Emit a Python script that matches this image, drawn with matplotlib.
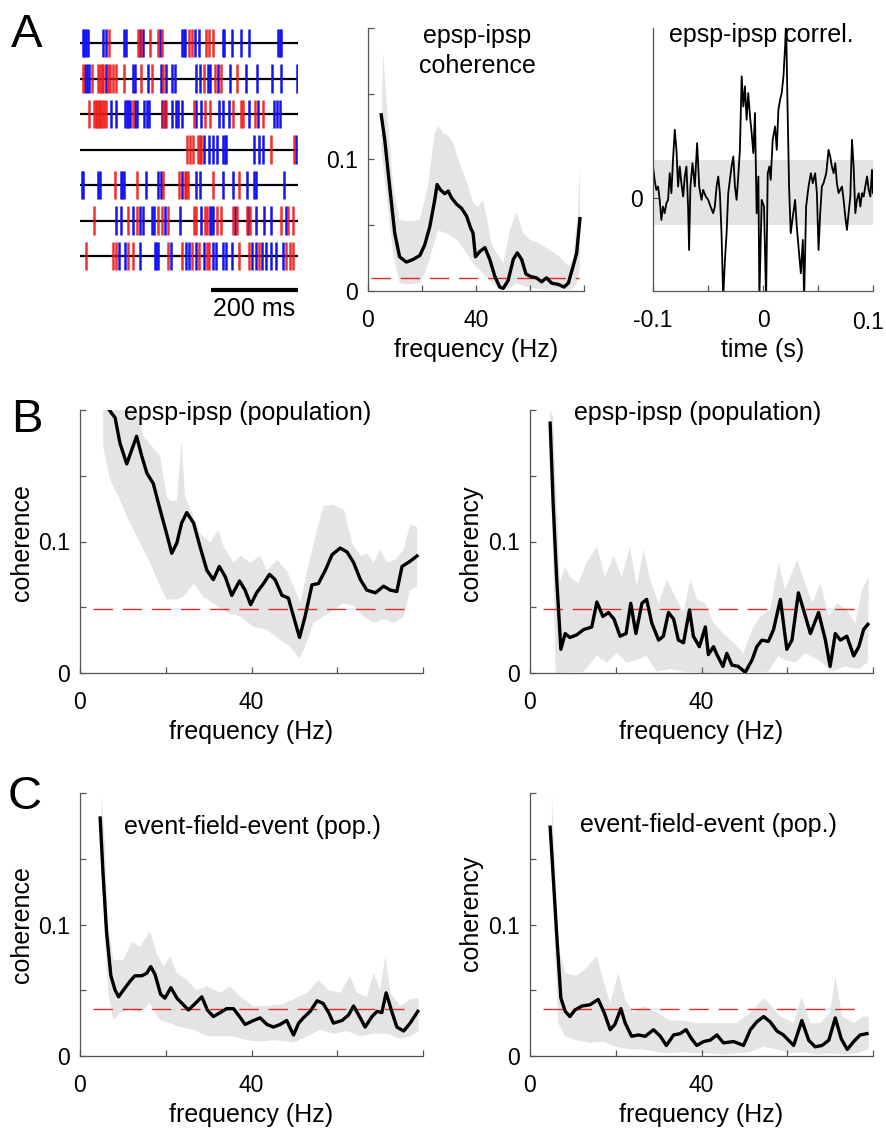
import numpy as np
import matplotlib.pyplot as plt

plt.rcParams['font.family'] = ['Liberation Sans', 'DejaVu Sans']

# ---- A: raster of events (ms), one list per trace ----
blue_spikes = [
    [6, 10, 14, 18, 53, 60, 101, 105, 137, 145, 183, 235, 238, 241, 263, 273, 327, 331, 349, 370, 388, 455, 459, 462],
    [11, 17, 21, 60, 121, 125, 156, 185, 197, 210, 217, 267, 275, 294, 299, 317, 343, 380, 406, 441, 462, 498],
    [70, 82, 103, 107, 111, 114, 126, 131, 146, 153, 159, 187, 195, 212, 220, 225, 233, 267, 278, 319, 327, 342, 388, 408, 446, 452, 458],
    [284, 296, 305, 314, 327, 332, 336, 398, 411, 420, 496],
    [4, 7, 42, 46, 93, 97, 101, 151, 179, 185, 235, 267, 276, 328, 351, 383, 398, 404, 469],
    [82, 95, 122, 137, 145, 166, 170, 195, 229, 278, 298, 301, 305, 355, 385, 404, 423, 439, 473],
    [90, 103, 137, 172, 175, 179, 208, 243, 250, 266, 284, 305, 313, 327, 336, 349, 395, 403, 418, 427, 439, 450, 465],
]
red_spikes = [
    [67, 134, 141, 160, 179, 189, 250, 256, 290, 296, 304],
    [6, 27, 42, 46, 50, 53, 65, 69, 75, 82, 101, 141, 166, 191, 284, 309, 324, 359],
    [21, 32, 36, 40, 43, 47, 51, 55, 60, 121, 191, 198, 261, 286, 299, 351, 370, 374, 401, 420],
    [246, 252, 259, 271, 275, 278, 439, 490],
    [80, 130, 191, 227, 240, 244, 248, 305, 365],
    [31, 111, 130, 179, 187, 202, 261, 267, 286, 291, 314, 324, 351, 360, 382, 389, 462, 477, 488],
    [14, 76, 82, 111, 122, 202, 235, 258, 273, 291, 296, 365, 388, 410, 473, 481, 488],
]

# ---- A: single pair coherence ----
a_freq = [4.9, 6.2, 8.0, 9.9, 11.7, 14.2, 16.7, 19.2, 21.0, 22.9, 24.7, 25.6, 26.8, 28.4, 29.7, 30.9, 32.8, 34.6,
          36.5, 38.0, 38.9, 39.8, 41.4, 43.3, 45.1, 47.0, 48.8, 50.1, 51.9, 53.8, 55.3, 56.9, 58.5, 60.2, 62.4,
          64.3, 66.1, 68.0, 70.5, 72.6, 74.2, 76.0, 77.3, 78.5]
a_coh = [0.134, 0.115, 0.080, 0.044, 0.026, 0.022, 0.024, 0.027, 0.035, 0.049, 0.069, 0.081, 0.077, 0.074, 0.076,
         0.071, 0.066, 0.063, 0.057, 0.048, 0.044, 0.026, 0.030, 0.033, 0.024, 0.011, 0.003, 0.002, 0.008, 0.024,
         0.029, 0.024, 0.013, 0.011, 0.010, 0.007, 0.010, 0.006, 0.005, 0.003, 0.006, 0.019, 0.029, 0.055]
a_hi_freq = [5.6, 6.8, 9.3, 11.7, 15.5, 19.2, 22.2, 24.7, 26.0, 27.8, 29.7, 31.5, 33.4, 35.2, 37.1, 38.9, 40.8,
             42.6, 43.9, 45.7, 47.6, 50.1, 52.5, 55.0, 57.5, 60.0, 63.7, 67.4, 71.0, 74.2, 76.0, 77.9, 78.5]
a_hi = [0.182, 0.146, 0.080, 0.054, 0.053, 0.054, 0.080, 0.120, 0.126, 0.120, 0.118, 0.113, 0.100, 0.090, 0.080,
        0.067, 0.064, 0.069, 0.057, 0.036, 0.029, 0.021, 0.046, 0.060, 0.044, 0.039, 0.036, 0.031, 0.026, 0.019,
        0.024, 0.064, 0.095]
a_lo_freq = [4.9, 6.8, 9.3, 11.7, 15.5, 19.2, 21.6, 24.1, 26.0, 29.0, 32.8, 36.5, 38.9, 41.4, 45.1, 48.8, 52.5,
             55.0, 58.7, 64.9, 71.0, 74.8, 77.3, 78.5]
a_lo = [0.107, 0.074, 0.029, 0.006, 0.005, 0.006, 0.016, 0.034, 0.046, 0.044, 0.039, 0.029, 0.021, 0.016, 0.008,
        0.001, 0.002, 0.006, 0.003, 0.001, 0.001, 0.001, 0.005, 0.019]
a_thr = 0.0102

# ---- A: epsp-ipsp cross-correlation (lag in ms) ----
corr_lag = [-100.0, -98.5, -97.0, -95.4, -93.9, -92.4, -90.9, -89.4, -87.8, -86.3,
            -84.8, -83.3, -81.8, -80.2, -78.7, -77.2, -75.7, -74.2, -72.6, -71.1,
            -69.6, -68.1, -67.2, -66.0, -64.1, -62.0, -59.9, -58.0, -55.9, -54.4,
            -52.0, -49.8, -47.7, -45.3, -43.8, -42.2, -40.7, -39.2, -37.7, -36.2,
            -34.6, -33.1, -31.6, -28.6, -27.0, -25.5, -24.0, -22.5, -21.0, -19.4,
            -17.9, -16.4, -14.9, -13.4, -11.8, -10.3, -8.8, -7.3, -5.8, -4.2,
            -3.3, -1.2, 0.9, 2.8, 4.3, 5.8, 7.0, 8.8, 11.0, 12.5,
            14.0, 15.5, 17.0, 18.6, 20.1, 21.0, 22.2, 23.7, 25.2, 27.1,
            29.2, 30.7, 32.8, 34.4, 36.2, 37.4, 39.2, 41.4, 43.5, 45.3,
            47.4, 49.0, 50.5, 52.0, 53.5, 55.0, 57.5, 59.6, 61.1, 62.6,
            64.2, 65.7, 67.2, 68.7, 70.2, 71.8, 73.3, 74.8, 76.3, 77.8,
            79.4, 80.9, 82.4, 83.9, 85.4, 87.0, 88.5, 90.0, 91.5, 93.0,
            94.6, 96.1, 97.6, 99.1, 100.0]
corr_val = [0.95, 0.55, 0.25, 0.35, -0.05, -0.65, -0.25, -0.45, -0.15, -0.05,
            0.75, 0.15, 1.15, 2.05, 1.45, 0.35, 0.95, 0.45, 0.05, 0.65,
            0.95, -0.25, -1.55, 0.35, 1.05, 0.35, 1.65, 0.35, -0.05, 0.25,
            0.05, -0.05, -0.25, -0.45, -0.25, 0.35, 0.65, 0.15, -1.05, -3.0,
            -1.85, -1.05, 0.15, 0.95, 1.25, 0.35, -0.05, 0.65, 1.45, 3.65,
            2.75, 3.35, 2.35, 3.15, 2.45, 1.95, 1.35, 2.55, -0.45, 0.65,
            -3.0, -0.05, -0.25, -3.0, 0.75, 0.95, 0.55, 1.75, 2.15, 1.45,
            2.65, 2.95, 3.15, 3.65, 4.55, 5.3, 2.95, 0.35, -1.05, -0.55,
            -0.05, -0.85, -1.65, -2.25, -1.25, -3.0, -0.25, 0.35, 0.75, 0.45,
            0.75, 0.15, -1.55, -0.45, 0.35, 0.45, 0.75, 1.45, 1.25, 0.95,
            0.75, 1.05, 0.45, 0.15, 0.25, 0.35, -0.05, -0.55, -0.95, -0.45,
            0.05, 1.75, 0.95, -0.45, -0.05, 0.15, -0.25, 0.15, 0.05, 0.35,
            0.65, 0.25, 0.05, 0.85, 0.15]
corr_band = [-0.8, 1.15]

# ---- B left: epsp-ipsp population coherence ----
bl_freq = [6.6, 8.2, 9.3, 10.9, 12.1, 13.2, 14.4, 15.6, 17.1, 18.7, 20.2, 21.4, 22.6, 23.7, 24.9, 26.5, 28.0,
           29.6, 31.1, 32.5, 33.9, 35.4, 37.2, 38.5, 39.8, 41.2, 42.8, 44.2, 45.5, 47.1, 48.6, 49.8, 51.2, 52.5,
           54.1, 55.6, 57.2, 58.8, 60.7, 62.3, 63.8, 65.4, 66.9, 68.9, 70.8, 72.4, 73.9, 75.1, 77.0, 78.6]
bl_coh = [0.201, 0.194, 0.175, 0.159, 0.170, 0.180, 0.165, 0.152, 0.144, 0.124, 0.106, 0.091, 0.099, 0.114,
          0.122, 0.114, 0.096, 0.078, 0.071, 0.081, 0.073, 0.059, 0.070, 0.063, 0.052, 0.061, 0.068, 0.075,
          0.071, 0.059, 0.057, 0.043, 0.027, 0.043, 0.067, 0.068, 0.078, 0.090, 0.095, 0.092, 0.084, 0.071,
          0.063, 0.061, 0.066, 0.063, 0.062, 0.081, 0.085, 0.089]
bl_hi_freq = [5.4, 12.5, 14.8, 18.7, 20.2, 21.0, 22.6, 23.7, 24.5, 26.5, 28.0, 30.4, 32.3, 33.5, 35.8, 37.4,
              39.7, 42.0, 43.6, 45.9, 48.2, 49.8, 51.4, 53.0, 54.9, 56.8, 59.1, 61.6, 63.4, 65.4, 66.9, 68.5,
              70.0, 71.6, 73.5, 75.5, 77.0, 78.6]
bl_hi = [0.21, 0.21, 0.180, 0.165, 0.134, 0.131, 0.131, 0.177, 0.134, 0.119, 0.106, 0.099, 0.109, 0.096, 0.084,
         0.089, 0.084, 0.089, 0.078, 0.086, 0.078, 0.066, 0.053, 0.078, 0.104, 0.127, 0.128, 0.124, 0.099, 0.089,
         0.091, 0.084, 0.094, 0.084, 0.086, 0.094, 0.113, 0.111]
bl_lo_freq = [5.4, 7.0, 9.3, 10.9, 14.0, 16.3, 18.7, 20.2, 22.6, 24.1, 26.5, 28.8, 31.1, 34.2, 37.4, 40.5, 43.6,
              46.7, 49.0, 51.2, 52.5, 54.5, 56.8, 59.1, 61.5, 63.8, 66.1, 68.5, 70.8, 73.2, 75.5, 77.0, 78.6]
bl_lo = [0.172, 0.147, 0.132, 0.119, 0.099, 0.084, 0.066, 0.056, 0.056, 0.058, 0.068, 0.058, 0.053, 0.046, 0.043,
         0.035, 0.033, 0.025, 0.020, 0.011, 0.020, 0.038, 0.043, 0.048, 0.053, 0.051, 0.043, 0.038, 0.041, 0.038,
         0.043, 0.063, 0.066]

# ---- B right: epsp-ipsp population coherency ----
br_freq = [4.7, 5.4, 6.2, 7.2, 8.2, 9.3, 10.9, 12.5, 14.4, 15.6, 17.0, 18.3, 19.6, 21.0, 22.4, 23.5, 24.7, 26.1,
           27.2, 28.4, 30.0, 31.1, 32.3, 33.5, 34.6, 35.8, 37.2, 38.1, 39.5, 40.9, 41.6, 42.8, 43.6, 45.0, 45.9,
           47.1, 48.6, 50.2, 51.8, 52.9, 54.1, 55.6, 56.8, 58.4, 59.9, 61.1, 62.6, 63.8, 65.4, 67.3, 68.9, 70.0,
           71.2, 72.4, 73.9, 75.5, 76.7, 77.8, 78.8]
br_coh = [0.190, 0.129, 0.073, 0.018, 0.030, 0.027, 0.029, 0.033, 0.035, 0.054, 0.043, 0.046, 0.041, 0.028,
          0.030, 0.053, 0.030, 0.053, 0.056, 0.038, 0.025, 0.028, 0.046, 0.041, 0.025, 0.023, 0.048, 0.028,
          0.020, 0.035, 0.014, 0.020, 0.014, 0.005, 0.015, 0.006, 0.005, 0.0005, 0.010, 0.020, 0.025, 0.024,
          0.033, 0.056, 0.018, 0.025, 0.061, 0.048, 0.030, 0.046, 0.025, 0.005, 0.030, 0.025, 0.028, 0.013,
          0.020, 0.033, 0.037]
br_hi_freq = [4.7, 5.4, 7.0, 8.2, 9.3, 11.3, 13.2, 15.6, 17.5, 19.5, 21.4, 23.3, 24.9, 26.5, 28.0, 30.0, 31.9,
              33.9, 35.8, 37.4, 38.9, 40.9, 42.8, 45.1, 47.5, 49.8, 51.8, 53.7, 56.0, 58.0, 59.5, 62.3, 64.2,
              65.8, 67.7, 69.7, 71.6, 73.9, 75.9, 77.4, 79.0]
br_hi = [0.200, 0.195, 0.069, 0.081, 0.073, 0.068, 0.084, 0.096, 0.073, 0.089, 0.073, 0.096, 0.066, 0.094, 0.071,
         0.053, 0.071, 0.058, 0.046, 0.071, 0.056, 0.053, 0.038, 0.030, 0.023, 0.015, 0.033, 0.043, 0.048, 0.084,
         0.063, 0.086, 0.068, 0.053, 0.068, 0.043, 0.053, 0.048, 0.038, 0.063, 0.073]
br_lo_freq = [4.7, 6.0, 12.5, 15.6, 17.9, 20.2, 22.6, 24.9, 27.2, 29.6, 32.7, 35.8, 40.5, 55.6, 57.9, 59.5, 61.9,
              64.2, 67.3, 70.4, 73.5, 76.6, 78.8]
br_lo = [0.180, 0.0, 0.001, 0.013, 0.008, 0.015, 0.008, 0.010, 0.013, 0.001, 0.003, 0.001, 0.0, 0.001, 0.013,
         0.010, 0.008, 0.015, 0.010, 0.001, 0.005, 0.003, 0.008]
b_thr = 0.049

# ---- C left: event-field-event population coherence ----
cl_freq = [4.7, 5.4, 6.2, 7.2, 8.2, 9.0, 10.1, 11.7, 12.8, 14.4, 15.6, 16.5, 17.5, 18.8, 19.8, 21.2, 22.6, 24.1,
           25.3, 26.9, 28.4, 29.7, 31.1, 32.7, 34.2, 35.8, 37.2, 38.5, 40.5, 42.0, 43.6, 45.1, 46.7, 48.2, 49.8,
           51.0, 52.1, 53.7, 55.3, 56.7, 58.0, 59.1, 61.1, 62.6, 63.8, 65.2, 66.5, 68.1, 69.3, 70.4, 71.4, 72.8,
           73.9, 75.5, 77.0, 78.8]
cl_coh = [0.181, 0.137, 0.094, 0.061, 0.050, 0.045, 0.050, 0.057, 0.061, 0.061, 0.063, 0.068, 0.062, 0.047,
          0.044, 0.052, 0.044, 0.039, 0.035, 0.040, 0.045, 0.035, 0.030, 0.033, 0.036, 0.036, 0.030, 0.024,
          0.027, 0.029, 0.024, 0.022, 0.024, 0.027, 0.016, 0.025, 0.029, 0.034, 0.042, 0.040, 0.033, 0.025,
          0.027, 0.031, 0.038, 0.030, 0.022, 0.030, 0.034, 0.033, 0.048, 0.033, 0.022, 0.019, 0.025, 0.034]
cl_hi_freq = [5.1, 5.8, 6.6, 7.8, 10.1, 12.1, 14.0, 16.3, 17.9, 19.5, 21.0, 22.6, 24.9, 27.2, 29.6, 32.7, 35.0,
              37.4, 40.5, 43.6, 46.7, 49.8, 53.0, 55.6, 58.0, 60.7, 63.0, 64.6, 66.9, 68.5, 70.0, 71.2, 72.4,
              74.7, 77.0, 79.0]
cl_hi = [0.200, 0.162, 0.099, 0.073, 0.073, 0.087, 0.083, 0.095, 0.078, 0.068, 0.076, 0.063, 0.058, 0.050, 0.053,
         0.048, 0.053, 0.045, 0.038, 0.038, 0.039, 0.043, 0.048, 0.058, 0.050, 0.048, 0.061, 0.048, 0.045, 0.063,
         0.050, 0.076, 0.048, 0.038, 0.043, 0.044]
cl_lo_freq = [5.1, 5.8, 6.6, 7.8, 9.3, 11.7, 14.0, 16.3, 18.7, 21.0, 23.3, 26.5, 29.6, 32.7, 35.8, 38.9, 42.0,
              45.1, 48.2, 49.8, 52.9, 56.0, 59.1, 62.3, 65.4, 68.5, 71.6, 74.7, 77.0, 79.0]
cl_lo = [0.150, 0.090, 0.048, 0.027, 0.033, 0.035, 0.033, 0.040, 0.027, 0.025, 0.022, 0.020, 0.015, 0.015, 0.015,
         0.012, 0.011, 0.012, 0.011, 0.010, 0.015, 0.020, 0.017, 0.019, 0.015, 0.017, 0.017, 0.013, 0.015, 0.019]

# ---- C right: event-field-event population coherency ----
cr_freq = [4.7, 5.4, 6.2, 7.2, 8.2, 9.3, 10.5, 12.1, 14.0, 15.9, 17.3, 18.7, 19.8, 21.2, 22.2, 23.7, 25.3, 26.9,
           28.8, 30.4, 31.8, 33.5, 35.0, 36.4, 37.7, 38.9, 40.5, 42.0, 43.6, 45.1, 47.5, 49.8, 51.4, 52.9, 54.5,
           56.0, 57.6, 59.1, 61.5, 63.4, 65.0, 66.5, 68.1, 69.7, 71.2, 72.6, 74.0, 75.5, 77.0, 78.6]
cr_coh = [0.174, 0.137, 0.094, 0.044, 0.034, 0.030, 0.035, 0.038, 0.039, 0.043, 0.033, 0.020, 0.024, 0.036,
          0.025, 0.015, 0.016, 0.015, 0.020, 0.015, 0.008, 0.016, 0.017, 0.020, 0.013, 0.008, 0.011, 0.012,
          0.016, 0.010, 0.011, 0.008, 0.020, 0.026, 0.030, 0.026, 0.019, 0.016, 0.008, 0.027, 0.012, 0.007,
          0.008, 0.012, 0.029, 0.013, 0.005, 0.011, 0.016, 0.017]
cr_hi_freq = [5.1, 5.8, 6.6, 8.2, 10.9, 13.2, 15.6, 17.1, 18.7, 20.6, 22.2, 24.1, 26.5, 29.6, 32.7, 35.8, 38.9,
              42.0, 45.1, 48.2, 51.4, 54.5, 56.4, 58.4, 61.5, 63.4, 65.4, 67.7, 70.0, 71.2, 72.8, 75.5, 77.8, 79.0]
cr_hi = [0.200, 0.150, 0.083, 0.063, 0.061, 0.067, 0.076, 0.058, 0.040, 0.063, 0.043, 0.033, 0.038, 0.033, 0.027,
         0.027, 0.025, 0.025, 0.025, 0.025, 0.033, 0.044, 0.038, 0.030, 0.025, 0.045, 0.025, 0.025, 0.033, 0.061,
         0.030, 0.025, 0.030, 0.030]
cr_lo_freq = [5.1, 5.8, 6.6, 8.2, 10.9, 14.0, 17.1, 20.2, 23.3, 26.5, 29.6, 32.7, 35.8, 38.9, 42.0, 45.1, 48.2,
              51.4, 54.5, 57.6, 60.7, 63.8, 66.9, 70.0, 73.2, 76.3, 79.0]
cr_lo = [0.150, 0.086, 0.025, 0.015, 0.012, 0.010, 0.011, 0.007, 0.005, 0.005, 0.003, 0.002, 0.003, 0.002, 0.002,
         0.001, 0.002, 0.003, 0.007, 0.005, 0.002, 0.003, 0.001, 0.002, 0.001, 0.002, 0.005]
c_thr = 0.036

W, H = 886, 1130
FS = 18      # labels / titles
TS = 16.5    # tick labels
GREY = '#e4e4e4'
RED = '#ea2a2a'
SPINE = '#555555'


def box(l, t, r, b):
    # pixel box -> figure fraction rect
    return [l / W, 1 - b / H, (r - l) / W, (b - t) / H]


def ftext(x, y, s, size=FS, **kw):
    fig.text(x / W, 1 - y / H, s, ha='center', va='center', fontsize=size, **kw)


def matlab_axes(ax):
    for side in ['top', 'right']:
        ax.spines[side].set_visible(False)
    for side in ['left', 'bottom']:
        ax.spines[side].set_linewidth(0.9)
        ax.spines[side].set_color(SPINE)
    ax.tick_params(direction='in', length=4, width=0.9, labelsize=TS, color=SPINE)
    ax.tick_params(axis='x', pad=13)
    ax.tick_params(axis='y', pad=7)


def coh_panel(rect, f, m, fh, hi, fl, lo, thr, thr_span):
    ax = fig.add_axes(rect)
    ax.fill(list(fh) + list(fl[::-1]), list(hi) + list(lo[::-1]), color=GREY, lw=0)
    ax.plot(thr_span, [thr, thr], color=RED, lw=1.0, dashes=(14, 7))
    ax.plot(f, m, color='k', lw=2.4, solid_joinstyle='round')
    ax.set_xlim(0, 80)
    ax.set_ylim(0, 0.2)
    ax.set_xticks([0, 20, 40, 60, 80])
    ax.set_xticklabels(['0', '', '40', '', ''])
    ax.set_yticks([0, 0.05, 0.1, 0.15, 0.2])
    ax.set_yticklabels(['0', '', '0.1', '', ''])
    matlab_axes(ax)
    ax.set_xlabel('frequency (Hz)', fontsize=FS, labelpad=4)
    return ax


fig = plt.figure(figsize=(W / 100, H / 100), dpi=100)

# raster
ax = fig.add_axes(box(80, 20, 298, 330))
for i in range(len(blue_spikes)):
    y = -i
    ax.plot([0, 500], [y, y], color='k', lw=1.6, zorder=1)
    ax.vlines(blue_spikes[i], y - 0.4, y + 0.4, color='#1414f0', lw=1.8, zorder=2)
    ax.vlines(red_spikes[i], y - 0.4, y + 0.4, color='#f01818', lw=1.8, zorder=3, alpha=0.9)
ax.plot([300, 500], [-6.96, -6.96], color='k', lw=3, solid_capstyle='butt')
ax.text(400, -7.49, '200 ms', ha='center', va='center', fontsize=FS)
ax.set_xlim(0, 500)
ax.set_ylim(-8.08, 0.648)
ax.axis('off')

# single pair coherence
coh_panel(box(368, 28, 584, 291), a_freq, a_coh, a_hi_freq, a_hi, a_lo_freq, a_lo, a_thr, [1, 78])
ftext(477, 51, 'epsp-ipsp\ncoherence', linespacing=1.3)

# cross-correlation
ax = fig.add_axes(box(653, 28, 873, 291))
ax.axhspan(corr_band[0], corr_band[1], color=GREY, lw=0)
ax.plot(np.array(corr_lag) / 1000.0, corr_val, color='k', lw=1.3)
ax.set_xlim(-0.1, 0.1)
ax.set_ylim(-2.78, 5.10)
ax.set_xticks([-0.1, -0.05, 0, 0.05, 0.1])
ax.set_xticklabels(['-0.1', '', '0', '', ''])
ax.set_yticks([0])
ax.set_yticklabels(['0'])
matlab_axes(ax)
ax.set_xlabel('time (s)', fontsize=FS, labelpad=4)
# right-most tick label nudged inward so it stays on the canvas
ftext(868, 323, '0.1', size=TS)
ftext(761, 35, 'epsp-ipsp correl.')

# population panels
coh_panel(box(80, 410, 423, 673), bl_freq, bl_coh, bl_hi_freq, bl_hi, bl_lo_freq, bl_lo, b_thr, [3, 76])
ftext(248, 413, 'epsp-ipsp (population)')
coh_panel(box(530, 410, 873, 673), br_freq, br_coh, br_hi_freq, br_hi, br_lo_freq, br_lo, b_thr, [3, 76])
ftext(698, 413, 'epsp-ipsp (population)')
coh_panel(box(80, 793, 423, 1056), cl_freq, cl_coh, cl_hi_freq, cl_hi, cl_lo_freq, cl_lo, c_thr, [3, 76])
ftext(252, 827, 'event-field-event (pop.)')
coh_panel(box(530, 793, 873, 1056), cr_freq, cr_coh, cr_hi_freq, cr_hi, cr_lo_freq, cr_lo, c_thr, [3, 76])
ftext(708, 825, 'event-field-event (pop.)')

ftext(22, 543, 'coherence', rotation=90)
ftext(471, 543, 'coherency', rotation=90)
ftext(22, 925, 'coherence', rotation=90)
ftext(471, 913, 'coherency', rotation=90)

ftext(27, 35, 'A', size=34)
ftext(27, 420, 'B', size=34)
ftext(25, 797, 'C', size=34)

fig.savefig('out.png', dpi=100)
